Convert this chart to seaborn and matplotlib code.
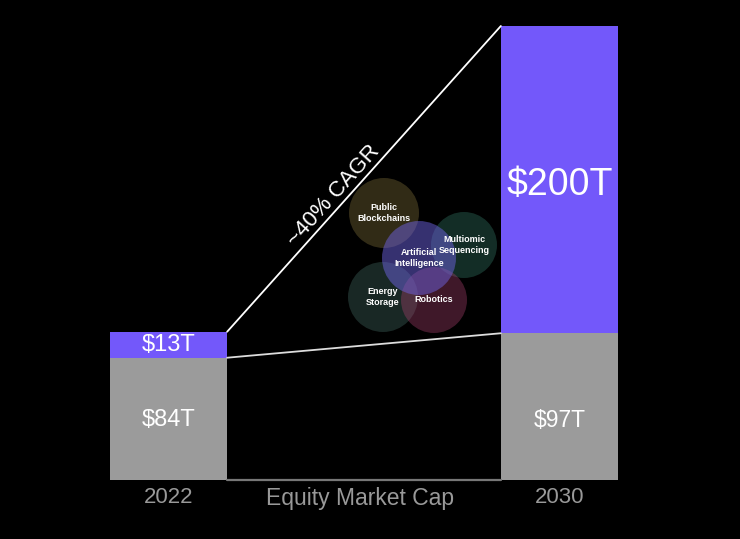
import matplotlib
matplotlib.use('Agg')
import matplotlib.pyplot as plt
from matplotlib.patches import Circle
from matplotlib.transforms import blended_transform_factory
import seaborn as sns
import pandas as pd

# --- Data ---
years = ['2022', '2030']
base_cap = [80, 96]          # existing equity market cap, $T (as drawn)
innovation_cap = [17, 201]   # disruptive innovation, $T (as drawn)
base_labels = ['$84T', '$97T']
innov_labels = ['$13T', '$200T']
base_label_y = [39, 39]
innov_label_y = [88, 193]
cagr_label = '~40% CAGR'
axis_label = 'Equity Market Cap'

# innovation platforms bubble (pixel centre x, y, radius, colour)
platforms = ['Public\nBlockchains', 'Multiomic\nSequencing', 'Energy\nStorage',
             'Robotics', 'Artificial\nIntelligence']
bubble_x = [384, 464, 383, 434, 419]
bubble_y = [213, 245, 297, 300, 258]
bubble_r = [35, 33, 35, 33, 37]
bubble_colors = ['#8f7c40', '#3a8a75', '#4f7a72', '#a8406e', '#6d62e0']
bubble_alpha = [0.35, 0.33, 0.33, 0.38, 0.5]

PURPLE = '#7358fa'
GREY = '#9b9b9b'

sns.set_theme(style='dark')
plt.rcParams['font.family'] = ['Liberation Sans', 'DejaVu Sans']

df = pd.DataFrame({'year': years, 'base': base_cap, 'innov': innovation_cap})
df['total'] = df['base'] + df['innov']

fig = plt.figure(figsize=(7.4, 5.39), dpi=100, facecolor='black')
ax = fig.add_axes([0, 59 / 539, 1, 454 / 539])
ax.set_facecolor('black')

w = 0.3
sns.barplot(data=df, x='year', y='total', color=PURPLE, width=w,
            saturation=1, linewidth=0, edgecolor='none', ax=ax)
sns.barplot(data=df, x='year', y='base', color=GREY, width=w,
            saturation=1, linewidth=0, edgecolor='none', ax=ax)

ax.set_xlim(-168.5 / 391, (740 - 168.5) / 391)
ax.set_ylim(0, df['total'].max())
ax.set_yticks([])
ax.set_ylabel('')
ax.set_xlabel('')
for s in ax.spines.values():
    s.set_visible(False)
ax.tick_params(axis='x', colors='#999999', labelsize=16, length=0, pad=5)
ax.grid(False)

# connecting lines
ax.plot([w / 2, 1 - w / 2], [df['total'][0], df['total'][1]],
        color='white', lw=1.3, clip_on=False)
ax.plot([w / 2, 1 - w / 2], [df['base'][0], df['base'][1]],
        color='#dddddd', lw=1.3, clip_on=False)
ax.plot([w / 2, 1 - w / 2], [0, 0], color='#777777', lw=1.6, clip_on=False)

# value labels
for i in range(len(years)):
    ax.text(i, base_label_y[i], base_labels[i], color='white',
            ha='center', va='center', fontsize=17 if i == 0 else 16.5)
    ax.text(i, innov_label_y[i], innov_labels[i],
            color='white', ha='center', va='center',
            fontsize=17 if i == 0 else 27)

trans = blended_transform_factory(ax.transData, ax.transAxes)
ax.text(0.49, -0.015, axis_label, transform=trans, color='#999999',
        ha='center', va='top', fontsize=16.5)

ax.text(0.422, 186, cagr_label, color='white', fontsize=16,
        rotation=48.2, rotation_mode='anchor', ha='center', va='center')

# innovation platform bubbles, drawn in pixel space
ov = fig.add_axes([0, 0, 1, 1])
ov.set_xlim(0, 740)
ov.set_ylim(539, 0)
ov.axis('off')
ov.patch.set_alpha(0)
for name, x, y, r, c, a in zip(platforms, bubble_x, bubble_y, bubble_r,
                               bubble_colors, bubble_alpha):
    ov.add_patch(Circle((x, y), r, facecolor=c, alpha=a, edgecolor='none'))
for name, x, y in zip(platforms, bubble_x, bubble_y):
    ov.text(x, y, name, color='white', ha='center', va='center',
            fontsize=6.5, fontweight='bold', linespacing=1.2)

fig.savefig('out.png', dpi=100, facecolor='black')
